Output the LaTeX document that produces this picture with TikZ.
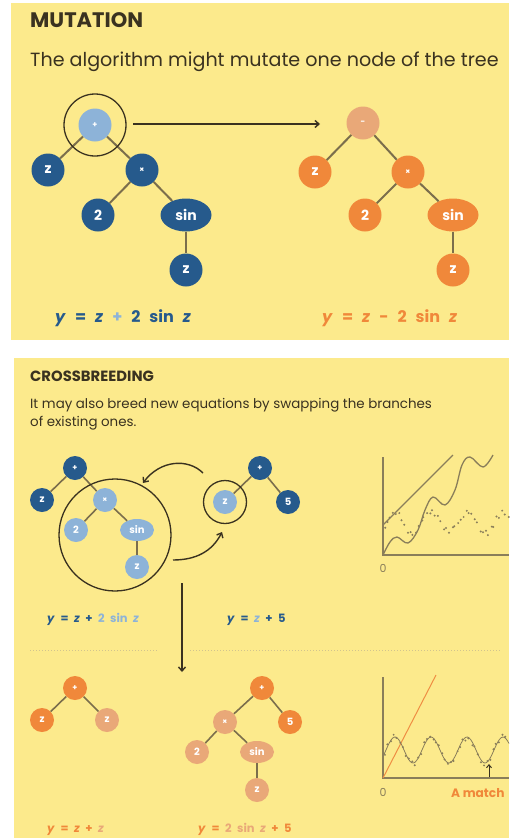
\documentclass[tikz,border=0pt]{standalone}
\usepackage{fontspec}
\setmainfont{Poppins}
\usetikzlibrary{arrows.meta,shapes.geometric}
\definecolor{bg}{HTML}{FCEA8C}
\definecolor{dblue}{HTML}{265A8C}
\definecolor{lblue}{HTML}{8DB3D8}
\definecolor{org}{HTML}{F0883A}
\definecolor{peach}{HTML}{E9A878}
\definecolor{edgec}{HTML}{7B6E4C}
\definecolor{ink}{HTML}{3A3220}
\definecolor{plotc}{HTML}{8A7E5A}
\definecolor{sepc}{HTML}{D2C48E}
\newcommand\mybigsp{\spaceskip=9pt\relax}
\newcommand\mysmallsp{\spaceskip=5.5pt\relax}
\begin{document}
\begin{tikzpicture}[x=1pt,y=-1pt,
  tn/.style={circle, inner sep=0pt, minimum size=33pt, text=white, font=\bfseries\fontsize{14}{14}\selectfont},
  te/.style={ellipse, inner sep=0pt, minimum width=51pt, minimum height=33pt, text=white, font=\bfseries\fontsize{14}{14}\selectfont},
  sn/.style={circle, inner sep=0pt, minimum size=24pt, text=white, font=\bfseries\fontsize{10}{10}\selectfont},
  se/.style={ellipse, inner sep=0pt, minimum width=34pt, minimum height=22pt, text=white, font=\bfseries\fontsize{10}{10}\selectfont},
  op/.style={font=\bfseries\fontsize{8}{8}\selectfont},
  db/.style={fill=dblue}, lb/.style={fill=lblue}, og/.style={fill=org}, pc/.style={fill=peach},
  link/.style={draw=edgec, line width=2pt},
  slink/.style={draw=edgec, line width=1.6pt},
  ring/.style={circle, draw=ink, line width=1.3pt, inner sep=0pt},
  carrow/.style={draw=ink, line width=1.4pt, -{Straight Barb[length=4pt,width=7pt]}},
  axis/.style={draw=plotc, line width=1.6pt},
  lbl/.style={anchor=base west, inner sep=0pt},
  bigeq/.style={lbl, font=\bfseries\fontsize{16}{16}\selectfont\mybigsp},
  smalleq/.style={lbl, font=\bfseries\fontsize{11.5}{11.5}\selectfont\mysmallsp},
]
\useasboundingbox (0,0) rectangle (509,838);
\fill[white] (0,0) rectangle (509,838);
\fill[bg] (11,3) rectangle (509,340);
\fill[bg] (14,358) rectangle (509,838);

% ---------------- MUTATION ----------------
\node[lbl, text=ink, font=\bfseries\fontsize{21}{21}\selectfont] (t1) at (30,27) {MUTATION};
\node[lbl, text=ink, font=\fontsize{19.1}{20}\selectfont] (s1) at (30,66) {The algorithm might mutate one node of the tree};

% left tree
\node[tn, lb, op] (a) at (95,125) {+};
\node[tn, db] (az) at (48,170) {z};
\node[tn, db, op] (am) at (142,170) {×};
\node[tn, db] (a2) at (98,215) {2};
\node[te, db] (as) at (186,215) {sin};
\node[tn, db] (az2) at (186,270) {z};
\draw[link] (a) -- (az); \draw[link] (a) -- (am);
\draw[link] (am) -- (a2); \draw[link] (am) -- (as);
\draw[link] (as) -- (az2);
\node[ring, minimum size=62pt] (ra) at (95,125) {};

% right tree
\node[tn, pc, op] (b) at (363,123) {-};
\node[tn, og] (bz) at (315,172) {z};
\node[tn, og, op] (bm) at (408,172) {×};
\node[tn, og] (b2) at (365,215) {2};
\node[te, og] (bs) at (453,215) {sin};
\node[tn, og] (bz2) at (453,270) {z};
\draw[link] (b) -- (bz); \draw[link] (b) -- (bm);
\draw[link] (bm) -- (b2); \draw[link] (bm) -- (bs);
\draw[link] (bs) -- (bz2);

\coordinate (arrs) at (133,124);
\coordinate (arre) at (320,124);
\draw[carrow] (arrs) -- (arre);

\node[bigeq, text=dblue] (eq1) at (55,322) {\textit{y} = \textit{z} \textcolor{lblue}{+} 2 sin \textit{z}};
\node[bigeq, text=org] (eq2) at (322,322) {\textit{y} = \textit{z} - 2 sin \textit{z}};

% ---------------- CROSSBREEDING ----------------
\node[lbl, text=ink, font=\bfseries\fontsize{14.8}{15}\selectfont] (t2) at (30,381) {CROSSBREEDING};
\node[lbl, text=ink, font=\fontsize{13.4}{13.4}\selectfont] (s2a) at (30,408) {It may also breed new equations by swapping the branches};
\node[lbl, text=ink, font=\fontsize{13.4}{13.4}\selectfont] (s2b) at (30,426) {of existing ones.};

% parent 1
\node[sn, db, op] (c) at (75,468) {+};
\node[sn, db] (cz) at (42,500) {z};
\node[sn, lb, op] (cm) at (105,500) {×};
\node[sn, lb] (c2) at (76,530) {2};
\node[se, lb] (cs) at (137,530) {sin};
\node[sn, lb] (cz2) at (137,567) {z};
\draw[slink] (c) -- (cz); \draw[slink] (c) -- (cm);
\draw[slink] (cm) -- (c2); \draw[slink] (cm) -- (cs);
\draw[slink] (cs) -- (cz2);
\node[ring, minimum size=112pt] (rc) at (115,535) {};

% parent 2
\node[sn, db, op] (d) at (260,468) {+};
\node[sn, lb] (dz) at (225,502) {z};
\node[sn, db] (d5) at (288,502) {5};
\draw[slink] (d) -- (dz); \draw[slink] (d) -- (d5);
\node[ring, minimum size=43pt] (rd) at (225,502) {};

% swap arrows
\coordinate (w1s) at (203,473);
\coordinate (w1e) at (143,483);
\draw[carrow] (w1s) .. controls (188,458) and (160,460) .. (w1e);
\coordinate (w2s) at (173,560);
\coordinate (w2e) at (222,532);
\draw[carrow] (w2s) .. controls (195,560) and (212,552) .. (w2e);
\coordinate (vs) at (182,583);
\coordinate (ve) at (182,672);
\draw[carrow] (vs) -- (ve);

\node[smalleq, text=dblue] (eq3) at (47,622) {\textit{y} = \textit{z} + \textcolor{lblue}{2 sin \textit{z}}};
\node[smalleq, text=dblue] (eq4) at (227,622) {\textit{y} = \textcolor{lblue}{\textit{z}} + 5};

% separators
\draw[sepc, line width=1pt, dotted] (30,650) -- (158,650);
\draw[sepc, line width=1pt, dotted] (190,650) -- (500,650);

% graph 1
\draw[axis] (383,457) -- (383,555) -- (509,555);
\node[text=plotc, font=\fontsize{11}{11}\selectfont, inner sep=0pt] (o1) at (383,568) {0};
\draw[plotc, line width=1.3pt] (383,525) -- (453,455);
\draw[plotc, line width=1.3pt] plot[smooth, tension=0.6] coordinates {(383,555) (390,542) (397,537) (408,543) (418,530) (425,510) (433,497) (445,505) (455,490) (462,465) (470,457) (483,467) (493,455)};
\pgfmathsetseed{11}
\foreach \i in {0,...,44} {
  \pgfmathsetmacro\xx{385+\i*2.8+2*(rnd-0.5)}
  \pgfmathsetmacro\yy{523-10*cos(10*(\xx-395))+8*(rnd-0.5)}
  \fill[plotc] (\xx,\yy) circle (1.1pt);
}

% offspring 1
\node[sn, og, op] (e) at (75,688) {+};
\node[sn, og] (ez) at (42,720) {z};
\node[sn, pc] (ez2) at (107,720) {z};
\draw[slink] (e) -- (ez); \draw[slink] (e) -- (ez2);

% offspring 2
\node[sn, og, op] (f) at (262,688) {+};
\node[sn, pc, op] (fm) at (225,722) {×};
\node[sn, og] (f5) at (290,722) {5};
\node[sn, pc] (f2) at (197,752) {2};
\node[se, pc] (fs) at (257,752) {sin};
\node[sn, pc] (fz) at (257,790) {z};
\draw[slink] (f) -- (fm); \draw[slink] (f) -- (f5);
\draw[slink] (fm) -- (f2); \draw[slink] (fm) -- (fs);
\draw[slink] (fs) -- (fz);

\node[smalleq, text=org] (eq5) at (47,832) {\textit{y} = \textit{z} + \textcolor{peach}{\textit{z}}};
\node[smalleq, text=org] (eq6) at (198,832) {\textit{y} = \textcolor{peach}{2 sin \textit{z}} + 5};

% graph 2
\draw[axis] (383,677) -- (383,778) -- (509,778);
\node[text=plotc, font=\fontsize{11}{11}\selectfont, inner sep=0pt] (o2) at (383,792) {0};
\draw[org!85!peach, line width=1pt] (383,778) -- (436,675);
\draw[plotc, line width=0.8pt] plot[domain=383:509, samples=80, smooth] (\x, {750-13*cos(10*(\x-395))});
\pgfmathsetseed{5}
\foreach \i in {0,...,40} {
  \pgfmathsetmacro\xx{385+\i*3+1.5*(rnd-0.5)}
  \pgfmathsetmacro\yy{750-13*cos(10*(\xx-395))+6*(rnd-0.5)}
  \fill[plotc] (\xx,\yy) circle (1.1pt);
}
\coordinate (m1) at (489,777);
\coordinate (m2) at (489,764);
\draw[draw=ink, line width=1pt, -{Straight Barb[length=3pt,width=5pt]}] (m1) -- (m2);
\node[lbl, text=org, font=\bfseries\fontsize{12.2}{12.2}\selectfont] (am2) at (451,797) {A match};
\end{tikzpicture}
\end{document}
